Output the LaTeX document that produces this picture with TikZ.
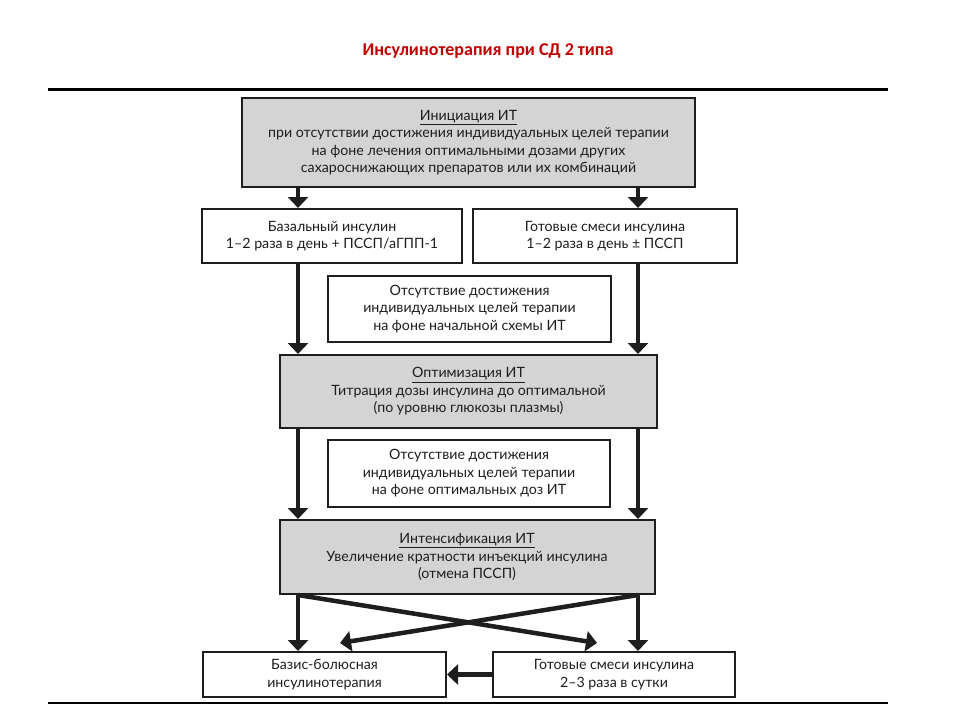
\documentclass[tikz,border=0pt]{standalone}
\usepackage{fontspec}
\setmainfont{Lato}
\newfontfamily\titlefont{Carlito}
\usetikzlibrary{arrows.meta}
\definecolor{boxgray}{HTML}{D4D4D4}
\definecolor{titlered}{HTML}{C00000}
\definecolor{ink}{HTML}{1E1E1E}
\tikzset{
	stage/.style={draw=ink, line width=2pt, fill=boxgray, align=center, inner sep=0pt, text=ink, font=\fontsize{14.2}{17.5}\selectfont},
	plain/.style={stage, fill=white},
	arr/.style={draw=ink, line width=4.5pt, -{Triangle[width=20pt,length=11pt]}}
}
\begin{document}
\begin{tikzpicture}[x=1pt,y=-1pt]
		\useasboundingbox (0,0) rectangle (960,720);
		\node[font=\titlefont\bfseries\fontsize{18}{20}\selectfont, text=titlered] (title) at (488,51) {Инсулинотерапия при СД 2 типа};
		\draw[line width=3pt] (48,89) -- (888,89);
		\draw[line width=1.5pt] (48,703) -- (888,703);

		\node[stage, minimum width=453pt, minimum height=89pt] (init) at (468.5,142.5) {\underline{Инициация ИТ}\\при отсутствии достижения индивидуальных целей терапии\\на фоне лечения оптимальными дозами других\\сахароснижающих препаратов или их комбинаций};
		\node[plain, minimum width=260pt, minimum height=54pt] (basal) at (332,236) {Базальный инсулин\\1–2 раза в день + ПССП/аГПП-1};
		\node[plain, minimum width=264pt, minimum height=54pt] (mix) at (605,236) {Готовые смеси инсулина\\1–2 раза в день ± ПССП};
		\node[plain, minimum width=283pt, minimum height=66pt] (fail1) at (469.5,309) {Отсутствие достижения\\индивидуальных целей терапии\\на фоне начальной схемы ИТ};
		\node[stage, minimum width=377pt, minimum height=73pt] (optim) at (468.5,391.5) {\underline{Оптимизация ИТ}\\Титрация дозы инсулина до оптимальной\\(по уровню глюкозы плазмы)};
		\node[plain, minimum width=282pt, minimum height=67pt] (fail2) at (469,473.5) {Отсутствие достижения\\индивидуальных целей терапии\\на фоне оптимальных доз ИТ};
		\node[stage, minimum width=375pt, minimum height=74pt] (intens) at (467,557) {\underline{Интенсификация ИТ}\\Увеличение кратности инъекций инсулина\\(отмена ПССП)};
		\node[plain, minimum width=243pt, minimum height=45pt] (bolus) at (324.5,674.5) {Базис-болюсная\\инсулинотерапия};
		\node[plain, minimum width=242pt, minimum height=45pt] (mix3) at (614,674.5) {Готовые смеси инсулина\\2–3 раза в сутки};

		\coordinate (L) at (298,0);
		\coordinate (R) at (638,0);
		\coordinate (tipL) at (340,643);
		\coordinate (tipR) at (597,643);

		\draw[arr] (init.south -| L) -- (basal.north -| L);
		\draw[arr] (init.south -| R) -- (mix.north -| R);
		\draw[arr] (basal.south -| L) -- (optim.north -| L);
		\draw[arr] (mix.south -| R) -- (optim.north -| R);
		\draw[arr] (optim.south -| L) -- (intens.north -| L);
		\draw[arr] (optim.south -| R) -- (intens.north -| R);
		\draw[arr] (intens.south -| L) -- (bolus.north -| L);
		\draw[arr] (intens.south -| R) -- (mix3.north -| R);
		\draw[arr] (intens.south -| L) -- (tipR);
		\draw[arr] (intens.south -| R) -- (tipL);
		\draw[arr] (mix3.west) -- (bolus.east);
	\end{tikzpicture}
\end{document}
